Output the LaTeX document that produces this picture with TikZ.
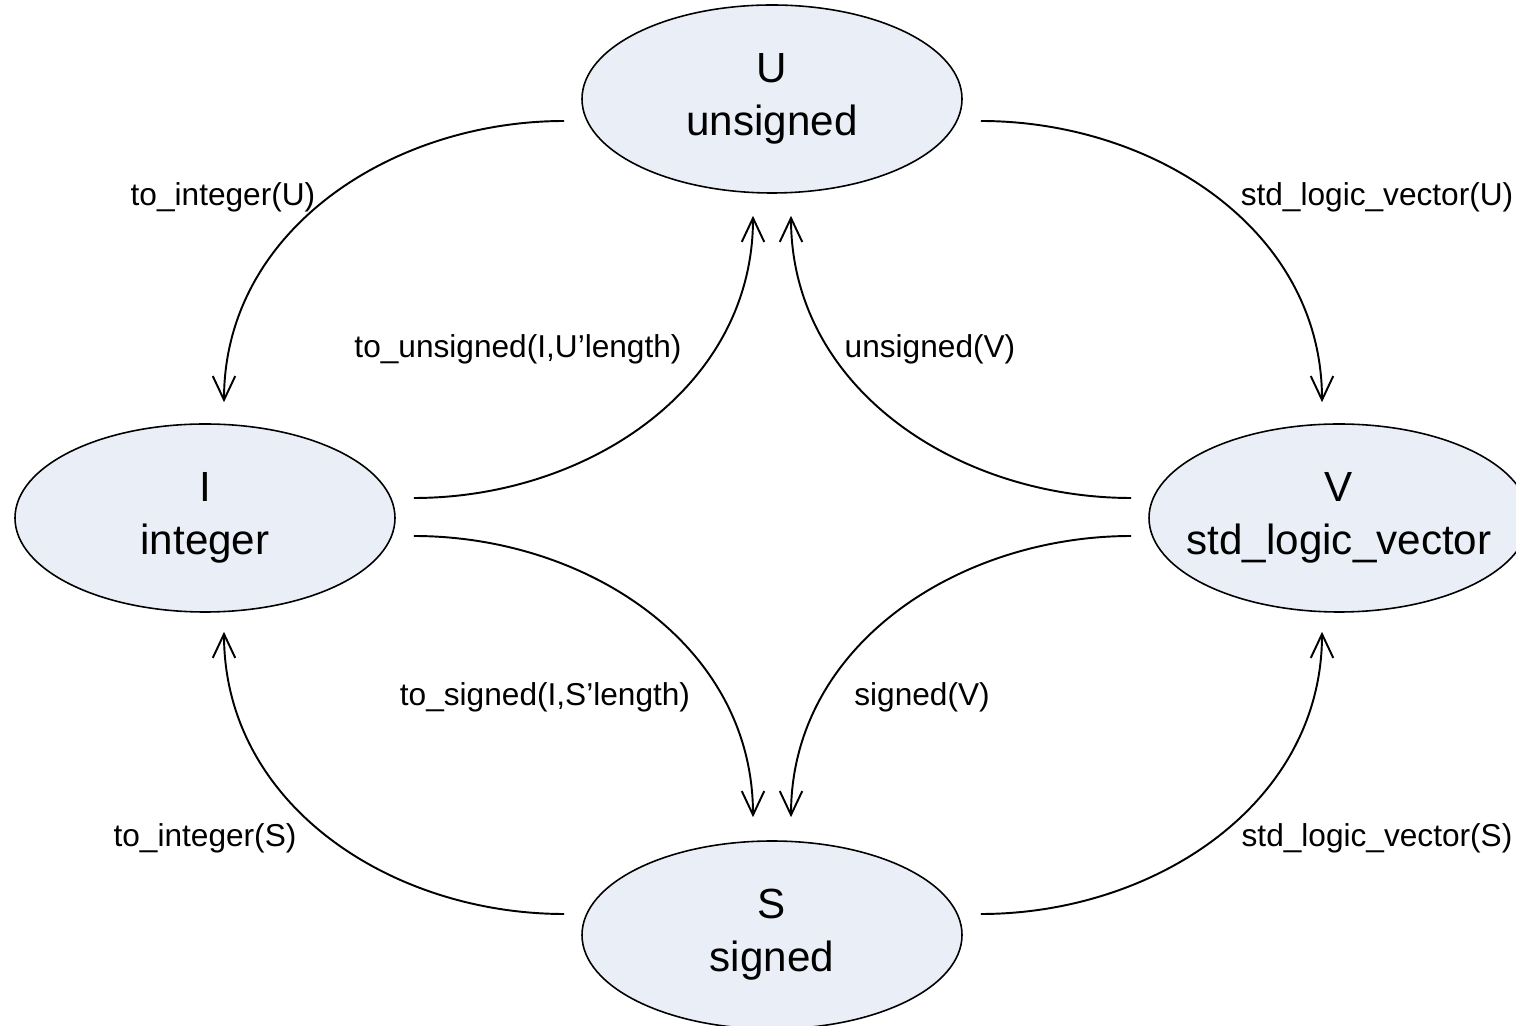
\documentclass[tikz,border=0pt]{standalone}
\usepackage{fontspec}
\setmainfont{Liberation Sans}
\usepackage{tikz}
\usetikzlibrary{shapes.geometric,arrows.meta}

\definecolor{typefill}{RGB}{234,239,247}

\begin{document}
\begin{tikzpicture}[xscale=1,yscale=1,
    >={Straight Barb[length=6.8pt,width=6.4pt]},
    typ/.style={ellipse,draw,line width=0.45pt,fill=typefill,minimum width=3.8cm,minimum height=1.88cm,
      inner xsep=-0.4cm,inner ysep=0pt,align=center,font=\fontsize{12}{15}\selectfont},
    conv/.style={->,line width=0.55pt},
    lbl/.style={inner sep=1pt,font=\fontsize{9}{11}\selectfont}]
    \useasboundingbox (0,0) rectangle (15.16,-10.26);
    % the four types
    \node[typ] (U) at (7.72,-0.99) {U\\unsigned};
    \node[typ] (I) at (2.05,-5.18) {I\\integer};
    \node[typ] (V) at (13.39,-5.18) {V\\std\_logic\_vector};
    \node[typ] (S) at (7.72,-9.35) {S\\signed};
    % conversions
    \draw[conv] ([shift={(-0.17,-0.22)}]U.west) to[out=180,in=90] ([shift={(0.19,0.21)}]I.north);
    \draw[conv] ([shift={(0.18,-0.22)}]U.east) to[out=0,in=90] ([shift={(-0.17,0.21)}]V.north);
    \draw[conv] ([shift={(0.18,0.20)}]I.east) to[out=0,in=-90] ([shift={(-0.19,-0.22)}]U.south);
    \draw[conv] ([shift={(-0.17,0.20)}]V.west) to[out=180,in=-90] ([shift={(0.19,-0.22)}]U.south);
    \draw[conv] ([shift={(0.18,-0.18)}]I.east) to[out=0,in=90] ([shift={(-0.19,0.23)}]S.north);
    \draw[conv] ([shift={(-0.17,-0.18)}]V.west) to[out=180,in=90] ([shift={(0.19,0.23)}]S.north);
    \draw[conv] ([shift={(-0.17,0.21)}]S.west) to[out=180,in=-90] ([shift={(0.19,-0.19)}]I.south);
    \draw[conv] ([shift={(0.18,0.21)}]S.east) to[out=0,in=-90] ([shift={(-0.17,-0.19)}]V.south);
    % function names
    \node[lbl] (UtoI) at (2.23,-1.97) {to\_integer(U)};
    \node[lbl] (UtoV) at (13.77,-1.97) {std\_logic\_vector(U)};
    \node[lbl] (ItoU) at (5.18,-3.49) {to\_unsigned(I,U’length)};
    \node[lbl] (VtoU) at (9.30,-3.49) {unsigned(V)};
    \node[lbl] (ItoS) at (5.45,-6.97) {to\_signed(I,S’length)};
    \node[lbl] (VtoS) at (9.22,-6.97) {signed(V)};
    \node[lbl] (StoI) at (2.05,-8.38) {to\_integer(S)};
    \node[lbl] (StoV) at (13.77,-8.38) {std\_logic\_vector(S)};
\end{tikzpicture}
\end{document}
